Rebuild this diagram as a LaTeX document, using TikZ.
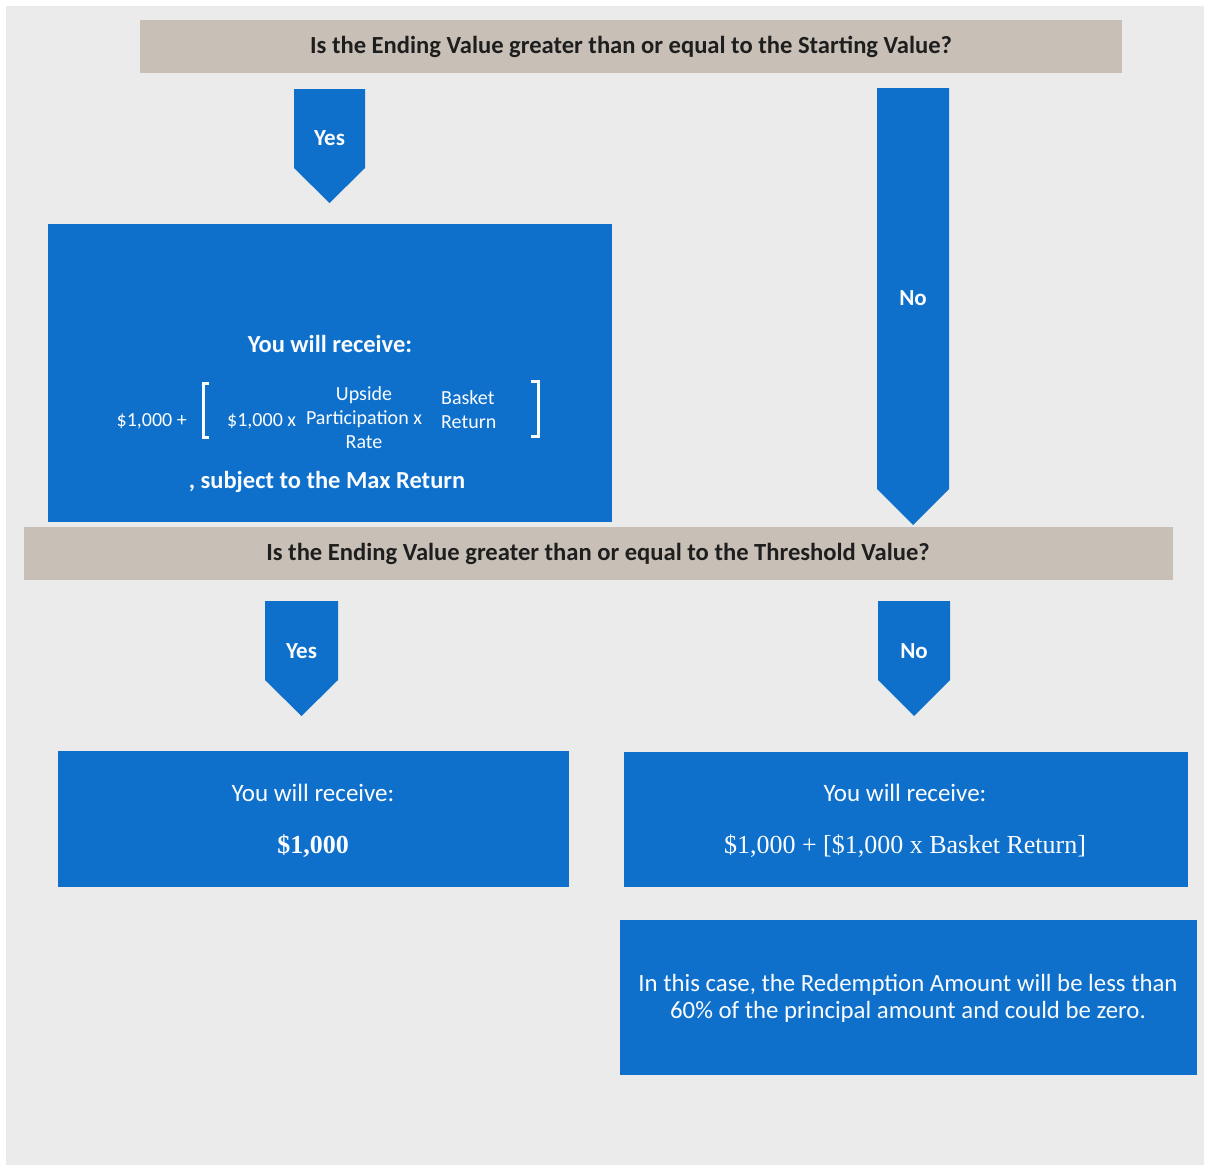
\documentclass[tikz,border=0pt]{standalone}
\usepackage{fontspec}
\setmainfont{Carlito}
\newfontfamily\numserif{Liberation Serif}
\definecolor{bggray}{RGB}{235,235,235}
\definecolor{tanbar}{RGB}{200,192,183}
\definecolor{boxblue}{RGB}{14,112,202}
\definecolor{darktxt}{RGB}{30,30,30}
\definecolor{wtxt}{RGB}{250,252,255}
\tikzset{
  bar/.style={fill=tanbar},
  bluebox/.style={fill=boxblue},
  bartext/.style={text=darktxt,font=\fontsize{24.6}{28}\selectfont\bfseries,inner sep=0pt},
  lbl/.style={text=wtxt,font=\fontsize{23}{27}\selectfont\bfseries,inner sep=0pt},
  boxtext/.style={text=wtxt,font=\fontsize{25}{29}\selectfont,inner sep=0pt},
  formtext/.style={text=wtxt,font=\fontsize{20}{24}\selectfont,inner sep=0pt,align=center},
  serifline/.style={text=wtxt,font=\fontsize{26}{30}\selectfont\numserif,inner sep=0pt},
  brk/.style={draw=wtxt,line width=3pt},
}
\begin{document}
\begin{tikzpicture}[x=1pt,y=-1pt]
\useasboundingbox (0,0) rectangle (1206,1167);
\fill[white] (0,0) rectangle (1206,1167);
\fill[bggray] (6,6) rectangle (1204,1165);

% question bars
\fill[bar] (140,20) rectangle (1122,73);
\node[bartext] (q1) at (631,47) {Is the Ending Value greater than or equal to the Starting Value?};
\fill[bar] (24,527) rectangle (1173,580);
\node[bartext] (q2) at (598,554) {Is the Ending Value greater than or equal to the Threshold Value?};

% chevron arrows
\fill[bluebox] (294,89) -- (365,89) -- (365,168) -- (329.5,203) -- (294,168) -- cycle;
\node[lbl] (yes1) at (329.5,138) {Yes};
\fill[bluebox] (877,88) -- (949,88) -- (949,489) -- (913,525) -- (877,489) -- cycle;
\node[lbl] (no1) at (913,298) {No};
\fill[bluebox] (265,601) -- (338,601) -- (338,680) -- (301.5,716) -- (265,680) -- cycle;
\node[lbl] (yes2) at (301.5,651) {Yes};
\fill[bluebox] (878,601) -- (950,601) -- (950,680) -- (914,716) -- (878,680) -- cycle;
\node[lbl] (no2) at (914,651) {No};

% top-left result box
\fill[bluebox] (48,224) rectangle (612,522);
\node[boxtext,font=\fontsize{24.5}{29}\selectfont\bfseries] (r1) at (330,344) {You will receive:};
\node[formtext,anchor=east] (f1) at (187,421) {\$1,000 +};
\draw[brk] (209,383) -- (203,383) -- (203,437) -- (209,437);
\node[formtext,anchor=west] (f2) at (227,421) {\$1,000 x};
\node[formtext] (f3) at (364,418) {Upside\\Participation x\\Rate};
\node[formtext,anchor=west,align=left] (f4) at (441,410) {Basket\\Return};
\draw[brk] (531,381) -- (538,381) -- (538,436) -- (531,436);
\node[boxtext,font=\fontsize{24.5}{29}\selectfont\bfseries] (r1b) at (327,482) {, subject to the Max Return};

% bottom-left result box
\fill[bluebox] (58,751) rectangle (569,887);
\node[boxtext] (r2) at (313,793) {You will receive:};
\node[serifline,font=\fontsize{26}{30}\selectfont\numserif\bfseries] (r2b) at (313,846) {\$1,000};

% bottom-right result box
\fill[bluebox] (624,752) rectangle (1188,887);
\node[boxtext] (r3) at (905,793) {You will receive:};
\node[serifline] (r3b) at (905,846) {\$1,000 + [\$1,000 x Basket Return]};

% note box
\fill[bluebox] (620,920) rectangle (1197,1075);
\node[boxtext,align=center,font=\fontsize{24.8}{27}\selectfont] (note) at (908,998) {In this case, the Redemption Amount will be less than\\60\% of the principal amount and could be zero.};
\end{tikzpicture}
\end{document}
